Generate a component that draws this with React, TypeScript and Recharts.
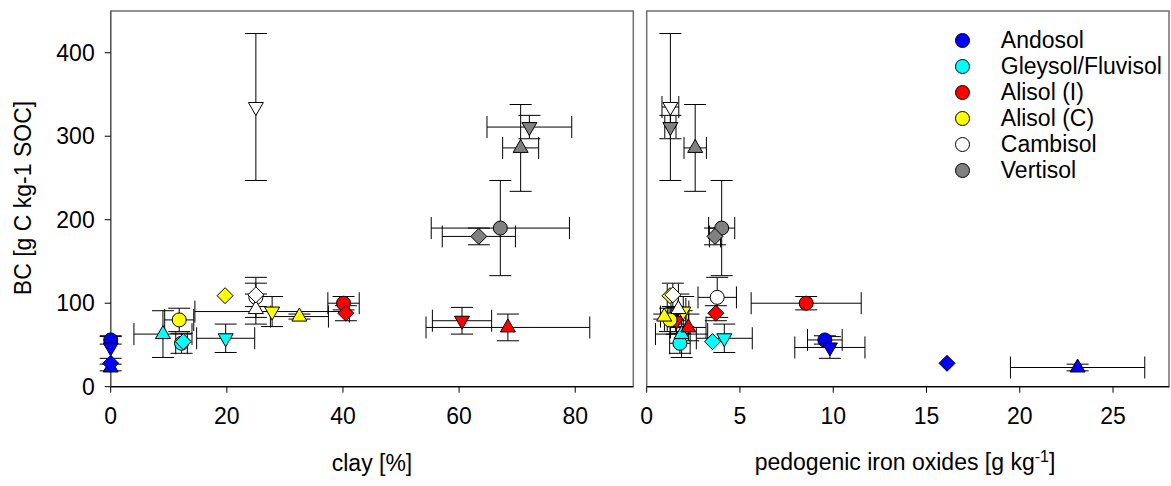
import React from 'react'
import { ScatterChart, Scatter, XAxis, YAxis, ErrorBar, ReferenceArea } from 'recharts'

// soil groups, legend order
const soils = ['Andosol', 'Gleysol/Fluvisol', 'Alisol (I)', 'Alisol (C)', 'Cambisol', 'Vertisol']
const soilColors = ['#0000ff', '#00ffff', '#ff0000', '#ffff00', '#ffffff', '#808080']

// symbol per sample, same order in every row below
const markers = ['circle', 'down', 'up', 'diamond']

// clay [%] and its error
const clay = [
  [0, 0, 0, 0],
  [12.2, 19.8, 9.0, 12.5],
  [40.1, 60.5, 68.4, 40.5],
  [11.8, 27.8, 32.5, 19.7],
  [25, 25, 25, 25],
  [67.1, 72.1, 70.6, 63.4],
]
const clayErr = [
  [0, 0, 0, 0],
  [1, 5.0, 5.0, 0],
  [2.7, 5.1, 14.1, 0],
  [2.5, 13.3, 5.0, 0],
  [0, 0, 0, 0],
  [11.9, 7.3, 3.1, 6.3],
]

// pedogenic iron oxides [g kg-1] and its error
const ironOx = [
  [9.55, 9.82, 23.1, 16.1],
  [1.78, 4.16, 1.87, 3.53],
  [8.55, 1.6, 2.23, 3.71],
  [1.25, 1.96, 0.94, 1.25],
  [3.78, 1.27, 1.7, 1.4],
  [4.02, 1.27, 2.6, 3.66],
]
const ironErr = [
  [0.93, 1.88, 3.6, 0],
  [0.55, 1.5, 1.4, 0],
  [2.95, 0.5, 0.95, 0],
  [0.3, 0.3, 0.2, 0],
  [1.03, 0.45, 0.4, 0.3],
  [0.7, 0.3, 0.6, 0.3],
]

// BC [g C kg-1 SOC] and its error
const bc = [
  [56, 47, 23, 28],
  [52, 58, 63, 54],
  [100, 79, 71, 88],
  [80, 90, 84, 109],
  [107, 335, 93, 110],
  [190, 311, 286, 180],
]
const bcErr = [
  [5, 13, 4, 0],
  [12, 17, 28, 0],
  [8, 16, 16, 9],
  [14, 18, 3, 0],
  [24, 88, 18, 14],
  [57, 14, 52, 10],
]

const clayTicks = [0, 20, 40, 60, 80]
const ironTicks = [0, 5, 10, 15, 20, 25]
const bcTicks = [0, 100, 200, 300, 400]

const font = '"Liberation Sans", Arial, Helvetica, sans-serif'

const Marker = (props: any) => {
  const { cx, cy, fill, payload } = props
  if (cx == null || cy == null) return null
  const common = { fill, stroke: '#000', strokeWidth: 1 }
  switch (payload.marker) {
    case 'circle':
      return <circle cx={cx} cy={cy} r={7} {...common} />
    case 'up':
      return <polygon points={`${cx},${cy - 8.5} ${cx + 7.5},${cy + 4.5} ${cx - 7.5},${cy + 4.5}`} {...common} />
    case 'down':
      return <polygon points={`${cx},${cy + 8.5} ${cx + 7.5},${cy - 4.5} ${cx - 7.5},${cy - 4.5}`} {...common} />
    default:
      return <polygon points={`${cx},${cy - 8} ${cx + 8},${cy} ${cx},${cy + 8} ${cx - 8},${cy}`} {...common} />
  }
}

const seriesFor = (xs: number[][], xErr: number[][]) =>
  soils.map((name, i) => ({
    name,
    color: soilColors[i],
    data: markers.map((m, j) => ({
      marker: m,
      x: xs[i][j],
      y: bc[i][j],
      ex: xErr[i][j],
      ey: bcErr[i][j],
    })),
  }))

const tickStyle = { fill: '#000', fontSize: 23, fontFamily: font }

function Panel({ series, domainX, ticksX, showY, width, margin }: any) {
  return (
    <ScatterChart width={width} height={486} margin={margin}>
      <ReferenceArea x1={domainX[0]} x2={domainX[1]} y1={0} y2={450} fill="none" stroke="#707070" strokeWidth={1.5} />
      <XAxis
        type="number"
        dataKey="x"
        domain={domainX}
        ticks={ticksX}
        interval={0}
        height={40}
        tickSize={6}
        tickMargin={15}
        tick={tickStyle}
        axisLine={{ stroke: '#000', strokeWidth: 1.2 }}
        tickLine={{ stroke: '#000' }}
      />
      <YAxis
        type="number"
        dataKey="y"
        domain={[0, 450]}
        ticks={bcTicks}
        interval={0}
        width={showY ? 61 : 0}
        tickSize={6}
        tickMargin={10}
        tick={showY ? tickStyle : false}
        axisLine={{ stroke: '#555', strokeWidth: 1.2 }}
        tickLine={{ stroke: '#000' }}
      />
      {series.map((s: any) => (
        <Scatter key={s.name} name={s.name} data={s.data} fill={s.color} shape={Marker} isAnimationActive={false}>
          <ErrorBar dataKey="ex" direction="x" width={11} stroke="#000" strokeWidth={1} isAnimationActive={false} />
          <ErrorBar dataKey="ey" direction="y" width={11} stroke="#000" strokeWidth={1} isAnimationActive={false} />
        </Scatter>
      ))}
    </ScatterChart>
  )
}

export default function App() {
  const claySeries = seriesFor(clay, clayErr)
  const ironSeries = seriesFor(ironOx, ironErr)

  return (
    <div style={{ position: 'absolute', left: 0, top: 0, width: 1171, height: 486, background: '#fff', fontFamily: font, color: '#000' }}>
      <div style={{ position: 'absolute', left: 0, top: 0 }}>
        <Panel
          series={claySeries}
          domainX={[0, 90]}
          ticksX={clayTicks}
          showY
          width={645}
          margin={{ top: 11, right: 11.7, bottom: 59.3, left: 49.7 }}
        />
      </div>
      <div style={{ position: 'absolute', left: 640, top: 0 }}>
        <Panel
          series={ironSeries}
          domainX={[0, 28]}
          ticksX={ironTicks}
          showY={false}
          width={531}
          margin={{ top: 11, right: 2, bottom: 59.3, left: 6.7 }}
        />
      </div>

      {/* axis titles */}
      <div style={{ position: 'absolute', left: 23, top: 198, transform: 'translate(-50%, -50%) rotate(-90deg)', whiteSpace: 'nowrap', fontSize: 23, lineHeight: '23px' }}>
        BC [g C kg-1 SOC]
      </div>
      <div style={{ position: 'absolute', left: 372, top: 451.5, transform: 'translateX(-50%)', whiteSpace: 'nowrap', fontSize: 23, lineHeight: '23px' }}>
        clay [%]
      </div>
      <div style={{ position: 'absolute', left: 905, top: 450.5, transform: 'translateX(-50%)', whiteSpace: 'nowrap', fontSize: 23, lineHeight: '23px' }}>
        pedogenic iron oxides [g kg<span style={{ position: 'relative', top: -8, fontSize: 16 }}>-1</span>]
      </div>

      {/* legend */}
      <div style={{ position: 'absolute', left: 954.8, top: 27 }}>
        {soils.map((name, i) => (
          <div key={name} style={{ display: 'flex', alignItems: 'center', height: 26 }}>
            <svg width={15} height={15} style={{ display: 'block' }}>
              <circle cx={7.5} cy={7.5} r={7} fill={soilColors[i]} stroke="#000" strokeWidth={1} />
            </svg>
            <span style={{ marginLeft: 31, fontSize: 23, lineHeight: '26px', whiteSpace: 'nowrap' }}>{name}</span>
          </div>
        ))}
      </div>
    </div>
  )
}
